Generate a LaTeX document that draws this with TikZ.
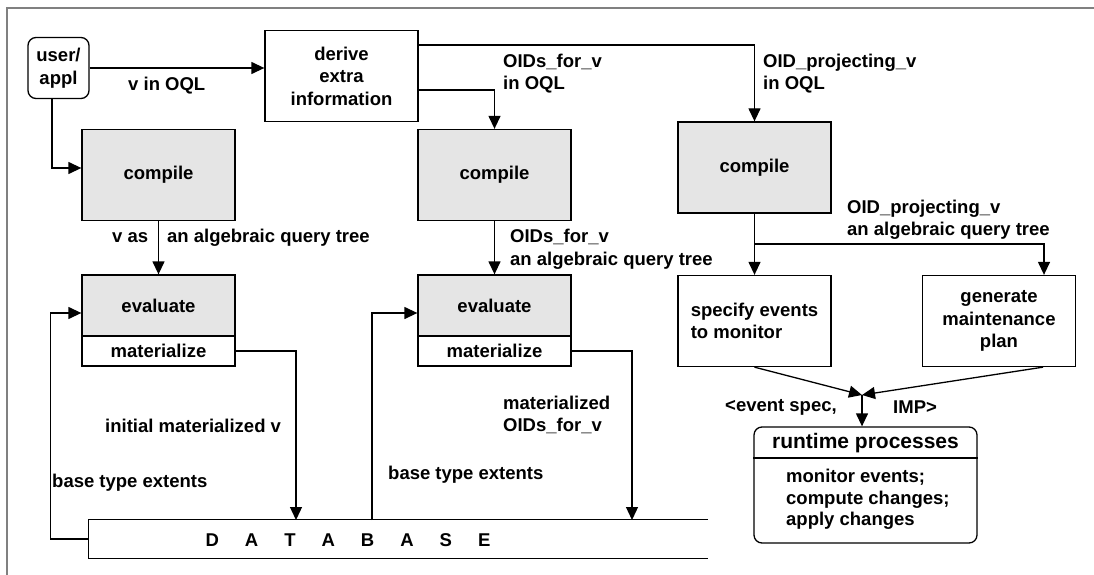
\documentclass[tikz,border=0pt]{standalone}
\usepackage{fontspec}
\setmainfont{Liberation Sans}
\usetikzlibrary{arrows.meta}

\begin{document}
\begin{tikzpicture}[x=1pt, y=-1pt, >={Triangle[length=13pt, width=12pt]},
    every node/.style={font=\fontsize{18.5}{22.5}\selectfont\bfseries},
    box/.style={draw, line width=1.3pt, minimum width=153pt, minimum height=91pt, inner sep=0pt, align=center},
    greybox/.style={box, fill=gray!20},
    lbl/.style={inner sep=0pt, align=left, anchor=west},
    conn/.style={->, line width=1.3pt}]
    \useasboundingbox (0,0) rectangle (1094,575);
    \draw[gray, line width=2pt] (7,575) -- (7,8) -- (1094,8);

    % boxes
    \node[box, rounded corners=8pt, minimum width=61pt, minimum height=61pt] (user) at (58.5,68) {user/\\appl};
    \node[box] (der) at (341.5,76) {derive\\extra\\information};
    \node[greybox] (cmp1) at (158.5,175) {compile};
    \node[greybox] (cmp2) at (494.5,175) {compile};
    \node[greybox] (cmp3) at (754.5,167.5) {compile};
    \node[greybox, minimum height=61pt] (ev1) at (158.5,305.5) {evaluate};
    \node[box, minimum height=30pt] (mat1) at (158.5,351) {materialize};
    \node[greybox, minimum height=61pt] (ev2) at (494.5,305.5) {evaluate};
    \node[box, minimum height=30pt] (mat2) at (494.5,351) {materialize};
    \node[box, align=left] (spec) at (754.5,321) {specify events\\to monitor};
    \node[box] (gen) at (999,321) {generate\\maintenance\\plan};
    \node[box, rounded corners=8pt, minimum width=223pt, minimum height=116pt] (rt) at (865.5,485) {};
    \draw[line width=1.3pt] (rt.west |- 0,458) -- (rt.east |- 0,458);
    \node[font=\fontsize{21}{24}\selectfont\bfseries] (rttitle) at (865.5,443) {runtime processes};
    \node[lbl, font=\fontsize{18.5}{21.5}\selectfont\bfseries] (rtbody) at (786,499.5) {monitor events;\\compute changes;\\apply changes};

    % database, open at the right
    \node[inner sep=0pt, minimum width=619pt, minimum height=38pt] (db) at (398.5,539) {};
    \draw[line width=1.3pt] (db.north east) -- (db.north west) -- (db.south west) -- (db.south east);
    \node (dbtext) at (348,540) {D\hspace{26pt}A\hspace{26pt}T\hspace{26pt}A\hspace{26pt}B\hspace{26pt}A\hspace{26pt}S\hspace{26pt}E};
    \coordinate (d1) at (296,520);
    \coordinate (d2) at (632,520);
    \coordinate (d3) at (372,520);
    \coordinate (br) at (754.5,244);
    \coordinate (meet) at (862,395);

    % connectors
    \draw[conn] (user.east) -- (user.east -| der.west);
    \draw[conn] ([xshift=-6.5pt]user.south) |- ([yshift=7pt]cmp1.west);
    \draw[conn] ([yshift=-14pt]der.east) -| (cmp2.north);
    \draw[conn] ([yshift=31pt]der.east) -| (cmp3.north);
    \draw[conn] (cmp1) -- (ev1);
    \draw[conn] (cmp2) -- (ev2);
    \draw[conn] (cmp3) -- (spec);
    \draw[conn] (br) -| ([xshift=45pt]gen.north);
    \draw[conn] (mat1.east) -| (d1);
    \draw[conn] (mat2.east) -| (d2);
    \draw[conn] (db.west) -- ++(-38,0) |- ([yshift=-7.5pt]ev1.west);
    \draw[conn] (d3) |- ([yshift=-7.5pt]ev2.west);
    \draw[conn] (spec.south) -- (meet);
    \draw[conn] ([xshift=44pt]gen.south) -- (meet);
    \draw[conn] (meet) -- (meet |- rt.north);

    % labels
    \node[lbl] (l1) at (128,86) {v in OQL};
    \node[lbl] (l2) at (112,238) {v as};
    \node[lbl] (l3) at (167,238) {an algebraic query tree};
    \node[lbl] (l4) at (503,73.5) {OIDs\_for\_v\\in OQL};
    \node[lbl] (l5) at (763,73.5) {OID\_projecting\_v\\in OQL};
    \node[lbl] (l6) at (510,249.5) {OIDs\_for\_v\\an algebraic query tree};
    \node[lbl] (l7) at (847,220) {OID\_projecting\_v\\an algebraic query tree};
    \node[lbl] (l8) at (105,426) {initial materialized v};
    \node[lbl] (l9) at (503,415) {materialized\\OIDs\_for\_v};
    \node[lbl] (l10) at (52,483) {base type extents};
    \node[lbl] (l11) at (388,475) {base type extents};
    \node[lbl] (l12) at (725,407) {<event spec,};
    \node[lbl] (l13) at (893,407) {IMP>};
\end{tikzpicture}
\end{document}
